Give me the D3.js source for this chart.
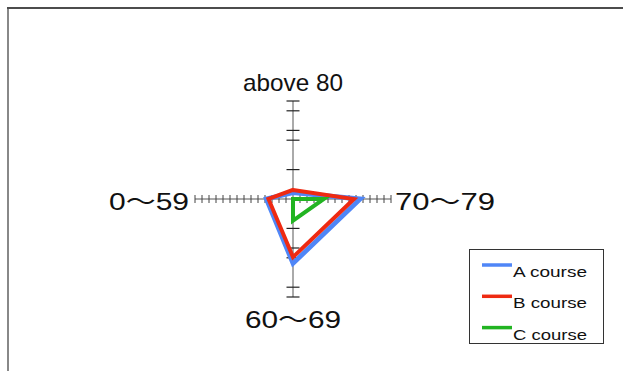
<!DOCTYPE html>
<html>
<head>
<meta charset="utf-8">
<script src="https://cdn.jsdelivr.net/npm/d3@7"></script>
<style>
  html, body { margin: 0; padding: 0; background: #fff; }
  svg { display: block; }
</style>
</head>
<body>
<svg id="chart" width="623" height="371"></svg>
<script>
// Score bands, clockwise from the top spoke
const categories = ["above 80", "70～79", "60～69", "0～59"];

// Number of students per band for each course
const seriesNames = ["A course", "B course", "C course"];
const courseA = [0.9, 9.6, 9.2, 3.8];
const courseB = [1.3, 8.7, 8.3, 3.5];
const courseC = [0, 4.4, 3.1, 0];

// Radial axis range and tick marks
const axisMax = 14;
const sideTicks = d3.range(1, 15);
const upTicks = [4.2, 8.4, 9.8, 12.6, 14];
const downTicks = [4.2, 7, 8.4, 12.6, 14];

const colors = ["#4f86f7", "#ee2a12", "#22b422"];
const widths = [4.8, 4, 4];

const svg = d3.select("#chart");
const cx = 293, cy = 199, R = 98;

// Outer frame
svg.append("line").attr("x1", 7).attr("x2", 623).attr("y1", 8).attr("y2", 8)
  .attr("stroke", "#111").attr("stroke-width", 1.5);
svg.append("line").attr("x1", 8).attr("x2", 8).attr("y1", 9).attr("y2", 371)
  .attr("stroke", "#888").attr("stroke-width", 2);

const r = d3.scaleLinear().domain([0, axisMax]).range([0, R]);
const angle = d3.scalePoint().domain(categories).range([0, 2 * Math.PI * 3 / 4]);

const g = svg.append("g").attr("transform", `translate(${cx},${cy})`);

// Spokes
categories.forEach(c => {
  const a = angle(c);
  g.append("line")
    .attr("x1", 0).attr("y1", 0)
    .attr("x2", Math.sin(a) * r(axisMax)).attr("y2", -Math.cos(a) * r(axisMax))
    .attr("stroke", "#aaa").attr("stroke-width", 2);
});

// Tick marks on the horizontal spokes
[-1, 1].forEach(dir => {
  g.selectAll(null).data(sideTicks).join("line")
    .attr("x1", d => dir * r(d)).attr("x2", d => dir * r(d))
    .attr("y1", -4).attr("y2", 4)
    .attr("stroke", "#444").attr("stroke-width", 1);
});
// Tick marks on the vertical spokes
g.selectAll(null).data(upTicks).join("line")
  .attr("x1", -6.5).attr("x2", 6.5)
  .attr("y1", d => -r(d)).attr("y2", d => -r(d))
  .attr("stroke", "#222").attr("stroke-width", 1.2);
g.selectAll(null).data(downTicks).join("line")
  .attr("x1", -6.5).attr("x2", 6.5)
  .attr("y1", d => r(d)).attr("y2", d => r(d))
  .attr("stroke", "#222").attr("stroke-width", 1.2);

// Course polygons
const radial = d3.lineRadial()
  .angle((d, i) => angle(categories[i]))
  .radius(d => r(d))
  .curve(d3.curveLinearClosed);

[courseA, courseB, courseC].forEach((vals, i) => {
  g.append("path")
    .attr("d", radial(vals))
    .attr("fill", "none")
    .attr("stroke", colors[i])
    .attr("stroke-width", widths[i])
    .attr("stroke-linejoin", "miter");
});

// Category labels
const labelFont = "'Liberation Sans', Arial, 'Noto Sans CJK JP', sans-serif";
const labelPos = [
  { x: 293, y: 91, w: 100 },
  { x: 445, y: 210, w: 100 },
  { x: 293, y: 328, w: 96 },
  { x: 149, y: 210, w: 80 }
];
categories.forEach((c, i) => {
  svg.append("text")
    .attr("x", labelPos[i].x).attr("y", labelPos[i].y)
    .attr("text-anchor", "middle")
    .attr("font-family", labelFont)
    .attr("font-size", 24)
    .attr("fill", "#111")
    .attr("textLength", labelPos[i].w)
    .attr("lengthAdjust", "spacingAndGlyphs")
    .text(c);
});

// Legend
const legend = svg.append("g");
legend.append("rect")
  .attr("x", 469.5).attr("y", 249.5).attr("width", 134).attr("height", 94)
  .attr("fill", "#fff").attr("stroke", "#333").attr("stroke-width", 1);
seriesNames.forEach((name, i) => {
  const y = 265 + i * 31.3;
  legend.append("line")
    .attr("x1", 482).attr("x2", 512).attr("y1", y).attr("y2", y)
    .attr("stroke", colors[i]).attr("stroke-width", 3.5);
  legend.append("text")
    .attr("x", 513).attr("y", y + 12)
    .attr("font-family", labelFont)
    .attr("font-size", 15)
    .attr("fill", "#111")
    .attr("textLength", 74)
    .attr("lengthAdjust", "spacingAndGlyphs")
    .text(name);
});
</script>
</body>
</html>
